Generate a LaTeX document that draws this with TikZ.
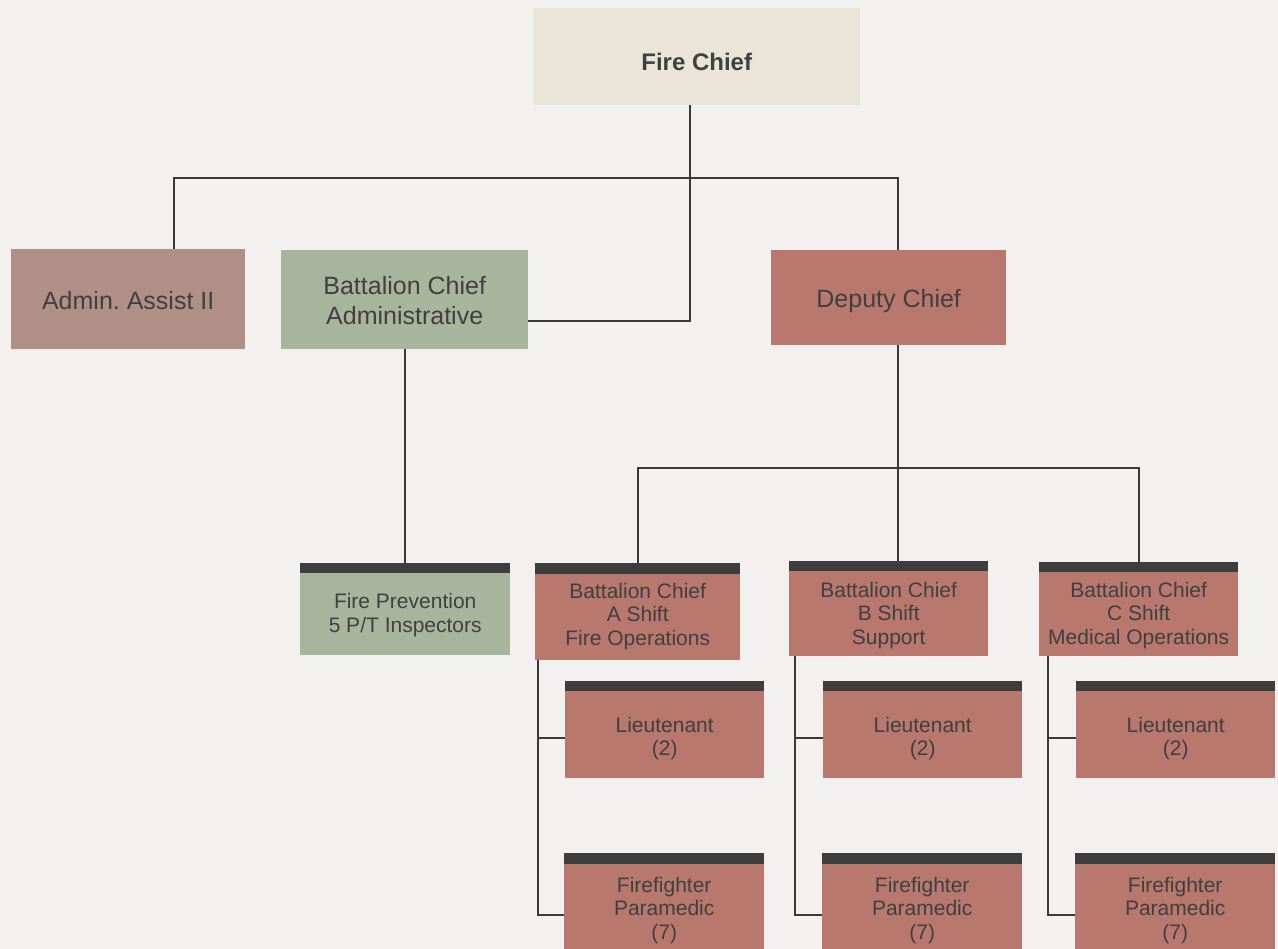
\documentclass[tikz,border=0pt]{standalone}
\usepackage{fontspec}
\setmainfont{Liberation Sans}
\usetikzlibrary{calc}
\definecolor{bgcol}{HTML}{F2F1EF}
\definecolor{chiefcol}{HTML}{EBE4D8}
\definecolor{admincol}{HTML}{B09086}
\definecolor{greencol}{HTML}{A8B59C}
\definecolor{redcol}{HTML}{B8786D}
\definecolor{barcol}{HTML}{3D3D3D}
\definecolor{txtcol}{HTML}{404040}
\definecolor{linecol}{HTML}{3A3A3A}
\frenchspacing
\newcommand{\lowtxt}[2]{\raisebox{-#1}[\height][\depth]{\begin{tabular}{@{}c@{}}#2\end{tabular}}}
\begin{document}
\begin{tikzpicture}[x=1pt,y=-1pt,
  box/.style={inner sep=0pt, align=center, text=txtcol, anchor=north west},
  bigbox/.style={box, font=\fontsize{25}{30}\selectfont},
  smallbox/.style={box, font=\fontsize{21}{23.5}\selectfont},
  barbox/.style={fill=barcol, inner sep=0pt, minimum height=10pt, anchor=south west},
  conn/.style={draw=linecol, line width=1.6pt}]
\useasboundingbox (0,0) rectangle (1278,949);
\fill[bgcol] (0,0) rectangle (1278,949);

% top level
\node[bigbox, fill=chiefcol, minimum width=327pt, minimum height=97pt,
      font=\bfseries\fontsize{24}{28}\selectfont] (fc) at (533,8) {\raisebox{-5pt}[\height][\depth]{Fire Chief}};

% second level
\node[bigbox, fill=admincol, minimum width=234pt, minimum height=100pt] (adm) at (11,249) {\lowtxt{4pt}{Admin. Assist II}};
\node[bigbox, fill=greencol, minimum width=247pt, minimum height=99pt] (bcadm) at (281,250) {\lowtxt{4pt}{Battalion Chief\\Administrative}};
\node[bigbox, fill=redcol, minimum width=235pt, minimum height=95pt] (dep) at (771,250) {\lowtxt{3.5pt}{Deputy Chief}};

% third level
\node[smallbox, fill=greencol, minimum width=210pt, minimum height=82pt] (fp) at (300,573) {\lowtxt{1.5pt}{Fire Prevention\\5 P/T Inspectors}};
\node[barbox, minimum width=210pt] (fpbar) at (300,573) {};

\node[smallbox, fill=redcol, minimum width=205pt, minimum height=86pt] (bca) at (535,574) {\lowtxt{0pt}{Battalion Chief\\A Shift\\Fire Operations}};
\node[barbox, minimum width=205pt, minimum height=11pt] (bcabar) at (535,574) {};

\node[smallbox, fill=redcol, minimum width=199pt, minimum height=85pt] (bcb) at (789,571) {\lowtxt{2.5pt}{Battalion Chief\\B Shift\\Support}};
\node[barbox, minimum width=199pt] (bcbbar) at (789,571) {};

\node[smallbox, fill=redcol, minimum width=199pt, minimum height=84pt] (bcc) at (1039,572) {\lowtxt{2pt}{Battalion Chief\\C Shift\\Medical Operations}};
\node[barbox, minimum width=199pt] (bccbar) at (1039,572) {};

% lieutenants
\node[smallbox, fill=redcol, minimum width=199pt, minimum height=87pt] (lta) at (565,691) {\lowtxt{4.5pt}{Lieutenant\\(2)}};
\node[barbox, minimum width=199pt] (ltabar) at (565,691) {};
\node[smallbox, fill=redcol, minimum width=199pt, minimum height=87pt] (ltb) at (823,691) {\lowtxt{4.5pt}{Lieutenant\\(2)}};
\node[barbox, minimum width=199pt] (ltbbar) at (823,691) {};
\node[smallbox, fill=redcol, minimum width=199pt, minimum height=87pt] (ltc) at (1076,691) {\lowtxt{4.5pt}{Lieutenant\\(2)}};
\node[barbox, minimum width=199pt] (ltcbar) at (1076,691) {};

% firefighters
\node[smallbox, fill=redcol, minimum width=200pt, minimum height=86pt] (ffa) at (564,864) {\lowtxt{4pt}{Firefighter\\Paramedic\\(7)}};
\node[barbox, minimum width=200pt, minimum height=11pt] (ffabar) at (564,864) {};
\node[smallbox, fill=redcol, minimum width=200pt, minimum height=86pt] (ffb) at (822,864) {\lowtxt{4pt}{Firefighter\\Paramedic\\(7)}};
\node[barbox, minimum width=200pt, minimum height=11pt] (ffbbar) at (822,864) {};
\node[smallbox, fill=redcol, minimum width=200pt, minimum height=86pt] (ffc) at (1075,864) {\lowtxt{4pt}{Firefighter\\Paramedic\\(7)}};
\node[barbox, minimum width=200pt, minimum height=11pt] (ffcbar) at (1075,864) {};

% junctions
\coordinate (fcout) at ($(fc.south)+(-6.5,0)$);
\coordinate (depout) at ($(dep.south)+(9.5,0)$);
\coordinate (j1) at (fcout |- 0,178);
\coordinate (j2) at (depout |- 0,468);

% connectors
\draw[conn] (fcout) |- ([yshift=-21.5pt]bcadm.east);
\draw[conn] ($(adm.north)+(46,0)$) |- (j1) -| ($(dep.north)+(9.5,0)$);
\draw[conn] (bcadm.south) -- (bcadm.south |- fpbar.north);
\draw[conn] (depout) -- (depout |- bcbbar.north);
\draw[conn] (bcabar.north) |- (j2) -| (bccbar.north);

\draw[conn] ($(bca.south west)+(3,0)$) |- ($(lta.west)+(0,3.5)$);
\draw[conn] ($(bca.south west)+(3,0)$) |- ($(ffa.west)+(0,8)$);
\draw[conn] ($(bcb.south west)+(6,0)$) |- ($(ltb.west)+(0,3.5)$);
\draw[conn] ($(bcb.south west)+(6,0)$) |- ($(ffb.west)+(0,8)$);
\draw[conn] ($(bcc.south west)+(9,0)$) |- ($(ltc.west)+(0,3.5)$);
\draw[conn] ($(bcc.south west)+(9,0)$) |- ($(ffc.west)+(0,8)$);
\end{tikzpicture}
\end{document}
